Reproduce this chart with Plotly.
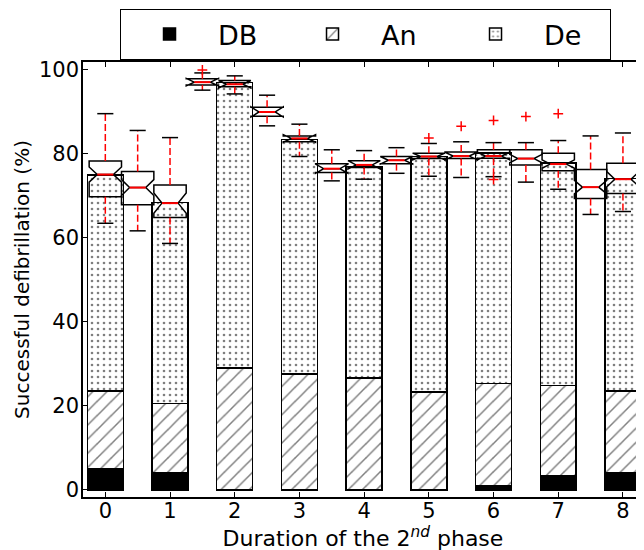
import plotly.graph_objects as go

# ---- stacked bar data (segment heights, %) ----
categories = [0, 1, 2, 3, 4, 5, 6, 7, 8]
db_values = [5.0, 4.2, 0.0, 0.0, 0.0, 0.0, 1.0, 3.4, 4.0]
an_values = [18.6, 16.4, 29.0, 27.6, 26.7, 23.3, 24.3, 21.5, 19.6]
de_values = [51.4, 47.8, 68.0, 55.9, 50.3, 56.1, 54.9, 52.9, 50.6]

# ---- notched box plot statistics ----
box_pos = [0, 0.5, 1, 1.5, 2, 2.5, 3, 3.5, 4, 4.5, 5, 5.5, 6, 6.5, 7, 7.5, 8]
box_low = [63.5, 61.7, 58.7, 95.2, 94.3, 86.7, 79.4, 73.6, 74.0, 75.4, 74.7, 74.4, 74.6, 73.3, 71.6, 65.6, 66.3]
box_q1 = [69.8, 67.9, 64.9, 96.4, 96.0, 89.0, 82.9, 75.6, 76.8, 77.7, 78.9, 78.9, 79.0, 77.4, 76.0, 69.4, 70.6]
box_med = [75.1, 72.0, 68.3, 97.1, 96.6, 90.0, 83.7, 76.5, 77.4, 78.5, 79.4, 79.5, 79.5, 78.9, 77.6, 72.1, 74.0]
box_q3 = [78.3, 75.8, 72.6, 97.9, 97.5, 91.1, 84.3, 77.7, 78.4, 79.4, 80.2, 80.5, 81.0, 81.0, 80.2, 76.3, 77.8]
box_high = [89.6, 85.6, 83.9, 99.3, 98.6, 94.0, 87.1, 81.0, 80.8, 81.5, 82.5, 82.9, 82.7, 82.7, 83.2, 84.3, 85.0]
box_notch = [1.8, 1.9, 2.4, 0.9, 0.9, 1.2, 0.9, 1.1, 1.0, 0.9, 0.8, 0.9, 0.9, 1.0, 1.0, 1.6, 1.8]

outlier_x = [1.5, 5, 5.5, 6, 6, 6.5, 7]
outlier_y = [100.0, 83.8, 86.6, 88.0, 73.9, 88.9, 89.6]

FONT = "DejaVu Sans"
BAR_W = 0.556

fig = go.Figure()
fig.add_trace(go.Bar(
    x=categories, y=db_values, name="DB", width=BAR_W,
    marker=dict(color="black", line=dict(color="black", width=1.5)),
))
fig.add_trace(go.Bar(
    x=categories, y=an_values, name="An", width=BAR_W,
    marker=dict(color="white", line=dict(color="black", width=1.5),
                pattern=dict(shape="/", fgcolor="black", bgcolor="white", size=10, solidity=0.15)),
))
fig.add_trace(go.Bar(
    x=categories, y=de_values, name="De", width=BAR_W,
    marker=dict(color="white", line=dict(color="black", width=1.5),
                pattern=dict(shape=".", fgcolor="black", bgcolor="white", size=6, solidity=0.15)),
))

# notched boxes (whiskers drawn separately in red dashes)
fig.add_trace(go.Box(
    x=box_pos, q1=box_q1, median=box_med, q3=box_q3,
    lowerfence=box_q1, upperfence=box_q3, notchspan=box_notch,
    notched=True, notchwidth=0.25, width=0.5, whiskerwidth=0,
    fillcolor="rgba(0,0,0,0)", line=dict(color="black", width=1.5),
    boxpoints=False, orientation="v", showlegend=False, hoverinfo="skip",
))

# whiskers
wx, wy = [], []
for p, lo, q1, q3, hi in zip(box_pos, box_low, box_q1, box_q3, box_high):
    wx += [p, p, None, p, p, None]
    wy += [q3, hi, None, q1, lo, None]
fig.add_trace(go.Scatter(
    x=wx, y=wy, mode="lines", showlegend=False, hoverinfo="skip",
    line=dict(color="red", width=1.5, dash="7px,3px"),
))

# whisker caps
fig.add_trace(go.Scatter(
    x=box_pos + box_pos, y=box_low + box_high, mode="markers",
    showlegend=False, hoverinfo="skip",
    marker=dict(symbol="line-ew", size=11.5, line=dict(color="black", width=1.5)),
))

# red medians
fig.add_trace(go.Scatter(
    x=box_pos, y=box_med, mode="markers", showlegend=False, hoverinfo="skip",
    marker=dict(symbol="line-ew", size=11.5, line=dict(color="red", width=2)),
))

# outliers
fig.add_trace(go.Scatter(
    x=outlier_x, y=outlier_y, mode="markers", showlegend=False, hoverinfo="skip",
    marker=dict(symbol="cross-thin", size=7, line=dict(color="red", width=1.5)),
))

fig.update_layout(
    width=644, height=550,
    margin=dict(l=75, r=9, t=54, b=61, autoexpand=False),
    barmode="stack",
    plot_bgcolor="white", paper_bgcolor="white",
    font=dict(family=FONT, color="black"),
    legend=dict(
        orientation="h", x=0.0661, xanchor="left", y=1.122, yanchor="top",
        bordercolor="black", borderwidth=1, bgcolor="white",
        font=dict(size=27, family=FONT), itemwidth=87,
        entrywidth=61, entrywidthmode="pixels",
        traceorder="normal",
    ),
)
fig.update_xaxes(
    range=[-0.345, 8.31], tickvals=categories, ticktext=[str(c) for c in categories],
    ticks="inside", ticklen=5, tickwidth=1, tickcolor="black",
    showline=True, linecolor="black", linewidth=1.5, mirror="ticks",
    showgrid=False, zeroline=False, tickfont=dict(size=21), automargin=False,
    ticklabelstandoff=-6,
    title=dict(text="Duration of the 2<sup><i>nd</i></sup> phase", font=dict(size=22), standoff=0),
)
fig.update_yaxes(
    range=[-1.67, 101.9], tickvals=[0, 20, 40, 60, 80, 100],
    ticks="inside", ticklen=5, tickwidth=1, tickcolor="black",
    showline=True, linecolor="black", linewidth=1.5, mirror="ticks",
    showgrid=False, zeroline=False, tickfont=dict(size=21), automargin=False,
    ticklabelstandoff=-2,
    title=dict(text="Successful defibrillation (%)", font=dict(size=20), standoff=4),
)

fig.write_html("out.html")
